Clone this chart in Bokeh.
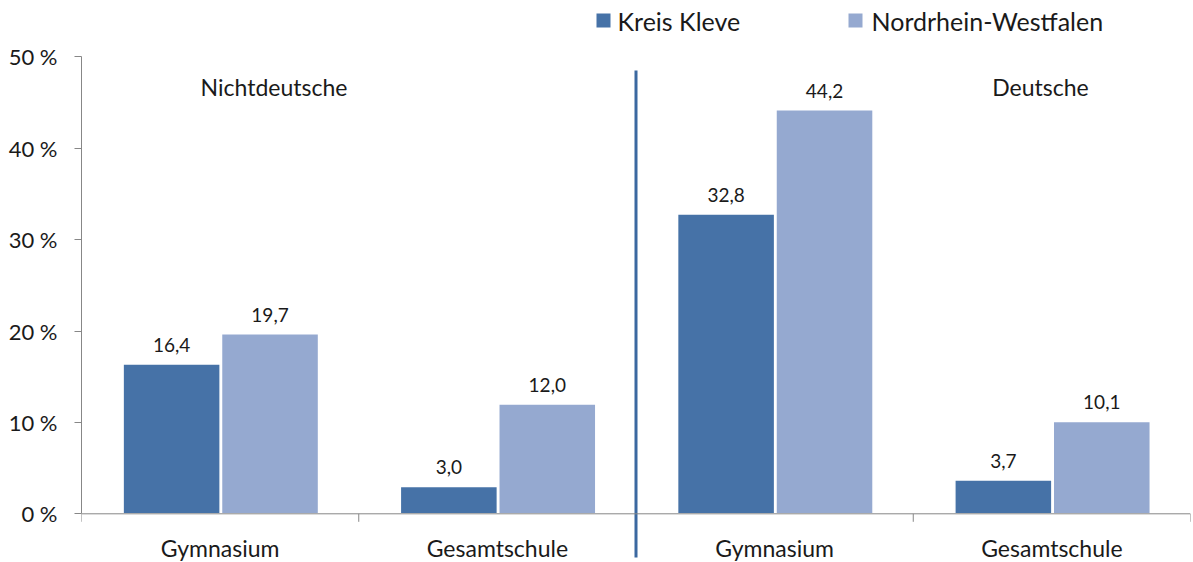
from bokeh.plotting import figure
from bokeh.models import (ColumnDataSource, Range1d, LinearAxis, FixedTicker, Span)
from bokeh.core.properties import value
from bokeh.embed import file_html
from bokeh.resources import INLINE

# ---- data ----
categories = ["Gymnasium", "Gesamtschule", "Gymnasium", "Gesamtschule"]
groups = ["Nichtdeutsche", "Deutsche"]
series_names = ["Kreis Kleve", "Nordrhein-Westfalen"]
kreis_kleve = [16.4, 3.0, 32.8, 3.7]
nrw = [19.7, 12.0, 44.2, 10.1]
y_ticks = [0, 10, 20, 30, 40, 50]
y_tick_labels = ["0 %", "10 %", "20 %", "30 %", "40 %", "50 %"]

# ---- styles ----
DARK = "#4672a7"
LIGHT = "#95a9d0"
DIVIDER = "#3b68a0"
AXIS = "#878787"
FONT = "Lato"
TXT = "#1a1a1a"

W, H = 1193, 562
LEFT, RIGHT = 81, 1190
PXY = 9.14          # pixels per percentage point
Y0 = 513.3          # pixel row of 0 %
PXX = (RIGHT - LEFT) / 4.0


def dy(px):
    return px / PXY


def xdata(px):
    return (px - LEFT) / PXX


def ydata(py):
    return (Y0 - py) / PXY


p = figure(width=W, height=H, output_backend="svg", toolbar_location=None,
           x_range=Range1d(0, 4), y_range=Range1d(ydata(H), ydata(0)),
           x_axis_type=None, y_axis_type=None,
           min_border_left=LEFT, min_border_right=W - RIGHT,
           min_border_top=0, min_border_bottom=0)
p.outline_line_color = None
p.grid.visible = False
p.background_fill_color = "white"
p.border_fill_color = "white"

# y axis
yax = LinearAxis(ticker=FixedTicker(ticks=y_ticks), bounds=(0, 50))
yax.major_label_overrides = {t: l for t, l in zip(y_ticks, y_tick_labels)}
yax.axis_line_color = AXIS
yax.major_tick_line_color = AXIS
yax.major_tick_out = 7
yax.major_tick_in = 0
yax.minor_tick_line_color = None
yax.major_label_text_font = FONT
yax.major_label_text_font_size = "22px"
yax.major_label_text_color = TXT
yax.major_label_standoff = 17
p.add_layout(yax, "left")

# x axis line and boundary ticks
p.add_layout(Span(location=0, dimension="width", line_color=AXIS, line_width=1))
n = len(categories)
bx = list(range(n + 1))
p.segment(x0=bx, x1=bx, y0=[0] * (n + 1), y1=[-dy(8)] * (n + 1),
          line_color=AXIS, line_width=1)

# bars
xs = list(range(n))
src = ColumnDataSource(dict(
    xk=[i + 0.325 for i in xs], xn=[i + 0.68 for i in xs],
    kk=kreis_kleve, nn=nrw,
    lk=[f"{v:.1f}".replace(".", ",") for v in kreis_kleve],
    ln=[f"{v:.1f}".replace(".", ",") for v in nrw],
    ylk=[v + dy(19) for v in kreis_kleve],
    yln=[v + dy(19) for v in nrw],
))
p.vbar(x="xk", top="kk", bottom=0, width=0.35, source=src, fill_color=DARK,
       line_color="white", line_width=1.5)
p.vbar(x="xn", top="nn", bottom=0, width=0.35, source=src, fill_color=LIGHT,
       line_color="white", line_width=1.5)

# value labels
for xcol, ycol, lcol in (("xk", "ylk", "lk"), ("xn", "yln", "ln")):
    p.text(x=xcol, y=ycol, text=lcol, source=src, text_font=value(FONT),
           text_font_size="19px", text_align="center", text_baseline="alphabetic",
           text_color=TXT)

# category labels
p.text(x=[i + 0.5 for i in xs], y=[ydata(547)] * n, text=categories,
       text_font=value(FONT), text_font_size="23px", text_align="center",
       text_baseline="middle", text_color=TXT)

# group labels
p.text(x=[xdata(273.5), xdata(1040)], y=[ydata(86)] * 2, text=groups,
       text_font=value(FONT), text_font_size="23px", text_align="center",
       text_baseline="middle", text_color=TXT)

# divider between groups
p.segment(x0=[2.0], x1=[2.0], y0=[ydata(557)], y1=[ydata(70)],
          line_color=DIVIDER, line_width=3)

# legend (manual)
ly = ydata(20)
p.scatter(x=[xdata(603), xdata(855)], y=[ly, ly], marker="square",
          size=14, fill_color=[DARK, LIGHT], line_color=None)
p.text(x=[xdata(617), xdata(871)], y=[ly, ly], text=series_names,
       text_font=value(FONT), text_font_size="25px", text_align="left",
       text_baseline="middle", text_color=TXT)

open("out.html", "w").write(file_html(p, INLINE))
